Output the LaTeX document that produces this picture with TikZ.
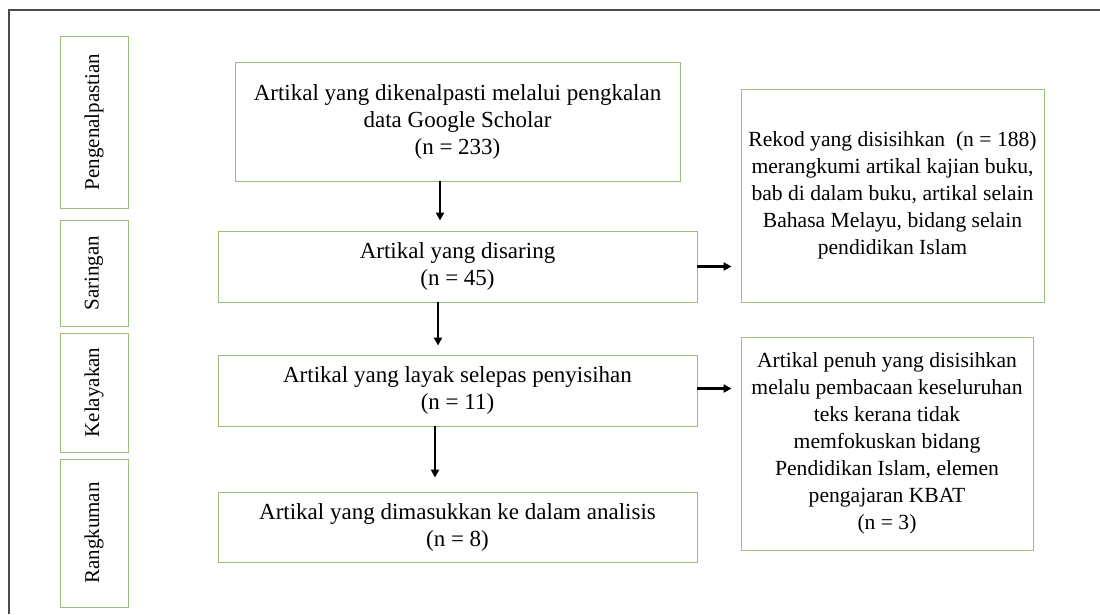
\documentclass[tikz,border=0pt]{standalone}
\usepackage{fontspec}
\setmainfont{Liberation Serif}
\usetikzlibrary{arrows.meta}
\usetikzlibrary{positioning}

\definecolor{boxgreen}{RGB}{158,188,128}
\definecolor{framegray}{RGB}{75,75,75}

\tikzset{
    box/.style={draw=boxgreen, line width=0.9pt, align=center, inner sep=0pt,
        font=\fontsize{23}{27}\selectfont},
    side/.style={box, font=\fontsize{21.6}{27}\selectfont},
    stage/.style={box, rotate=90, minimum height=68pt, font=\fontsize{21}{27}\selectfont},
    arr/.style={line width=2.2pt, -{Triangle[length=8pt,width=8pt]}}
}

\begin{document}
\begin{tikzpicture}[x=1pt, y=-1pt]
    \useasboundingbox (0,0) rectangle (1100,614);
    \draw[framegray, line width=1.6pt] (9,614) |- (1100,10);

    % stages on the left
    \node[stage, minimum width=172pt] (pen) at (94,122) {Pengenalpastian};
    \node[stage, minimum width=106pt] (sar) at (94,273) {Saringan};
    \node[stage, minimum width=119pt] (kel) at (94,392.5) {Kelayakan};
    \node[stage, minimum width=148pt] (ran) at (94,533) {Rangkuman};

    % main flow
    \node[box, minimum width=445pt, minimum height=119pt] (b1) at (457.5,121.5)
        {Artikal yang dikenalpasti melalui pengkalan\\ data Google Scholar\\ (n = 233)};
    \node[box, minimum width=479pt, minimum height=71pt] (b2) at (457.5,266.5)
        {Artikal yang disaring\\ (n = 45)};
    \node[box, minimum width=479pt, minimum height=71pt] (b3) at (457.5,390.5)
        {Artikal yang layak selepas penyisihan\\ (n = 11)};
    \node[box, minimum width=479pt, minimum height=70pt] (b4) at (457.5,527)
        {Artikal yang dimasukkan ke dalam analisis\\ (n = 8)};

    % excluded records
    \node[side, minimum width=303pt, minimum height=213pt] (r1) at (892.5,195.5)
        {Rekod yang disisihkan\ \ (n = 188)\\ merangkumi artikal kajian buku,\\
         bab di dalam buku, artikal selain\\ Bahasa Melayu, bidang selain\\ pendidikan Islam};
    \node[side, minimum width=292pt, minimum height=213pt] (r2) at (887,443.5)
        {Artikal penuh yang disisihkan\\ melalu pembacaan keseluruhan\\ teks kerana tidak\\
         memfokuskan bidang\\ Pendidikan Islam, elemen\\ pengajaran KBAT\\ (n = 3)};

    \draw[arr, shorten >=10pt] ([xshift=-17.5pt]b1.south) -- ([xshift=-17.5pt]b1.south |- b2.north);
    \draw[arr, shorten >=9pt] ([xshift=-19.5pt]b2.south) -- ([xshift=-19.5pt]b2.south |- b3.north);
    \draw[arr, shorten >=14pt] ([xshift=-22.5pt]b3.south) -- ([xshift=-22.5pt]b3.south |- b4.north);
    \draw[arr, shorten >=9pt] (b2.east) -- (b2.east -| r1.west);
    \draw[arr, shorten >=9pt] ([yshift=2pt]b3.east) -- ([yshift=2pt]b3.east -| r2.west);
\end{tikzpicture}
\end{document}
